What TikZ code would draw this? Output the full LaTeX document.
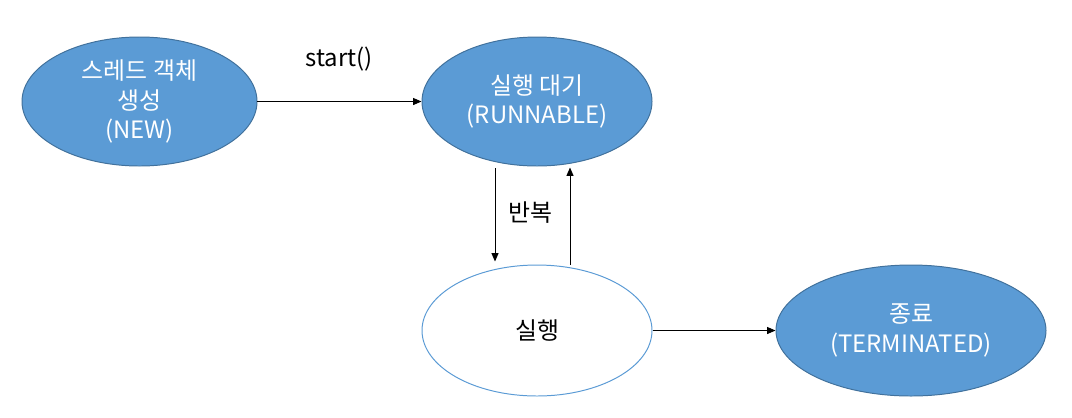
\documentclass[tikz,border=0pt]{standalone}
\usepackage{fontspec}
\setmainfont{Noto Sans CJK KR}
\usepackage{tikz}
\usetikzlibrary{shapes.geometric,arrows.meta,calc,positioning}

\definecolor{stateblue}{HTML}{5B9BD5}
\definecolor{stateline}{HTML}{41719C}

\begin{document}
\begin{tikzpicture}[x=0.025cm,y=-0.025cm,
    state/.style={ellipse,draw=stateline,fill=stateblue,line width=0.7pt,
      text=white,align=center,inner sep=0pt,font=\fontsize{17}{21}\selectfont},
    runstate/.style={ellipse,draw=stateblue,fill=white,line width=0.7pt,
      text=black,align=center,inner sep=0pt,font=\fontsize{17}{21}\selectfont},
    lbl/.style={font=\fontsize{17}{21}\selectfont},
    conn/.style={line width=0.7pt,-{Triangle[length=6pt,width=5pt]}}]
  \useasboundingbox (0,0) rectangle (1072,417);
  % states
  \node[state,minimum width=235*0.025cm,minimum height=129*0.025cm]
  (new) at (139.5,101.5) {스레드 객체\\생성\\(NEW)};
  \node[state,minimum width=230*0.025cm,minimum height=129*0.025cm]
  (runnable) at (537,101.5) {실행 대기\\(RUNNABLE)};
  \node[runstate,minimum width=230*0.025cm,minimum height=131*0.025cm]
  (running) at (537,330.5) {실행};
  \node[state,minimum width=270*0.025cm,minimum height=131*0.025cm]
  (terminated) at (911,330.5) {종료\\(TERMINATED)};
  % labels
  \node[lbl] (start) at (339,59) {start()};
  \node[lbl] (repeat) at (530,213) {반복};
  % transitions
  \draw[conn] (new.east) -- (runnable.west);
  \draw[conn] ([xshift=-42*0.025cm,yshift=-2*0.025cm]runnable.south) --
  ([xshift=-42*0.025cm,yshift=3*0.025cm]running.north);
  \draw[conn] ([xshift=33*0.025cm]running.north) --
  ([xshift=33*0.025cm,yshift=-1*0.025cm]runnable.south);
  \draw[conn] (running.east) -- (terminated.west);
\end{tikzpicture}
\end{document}
